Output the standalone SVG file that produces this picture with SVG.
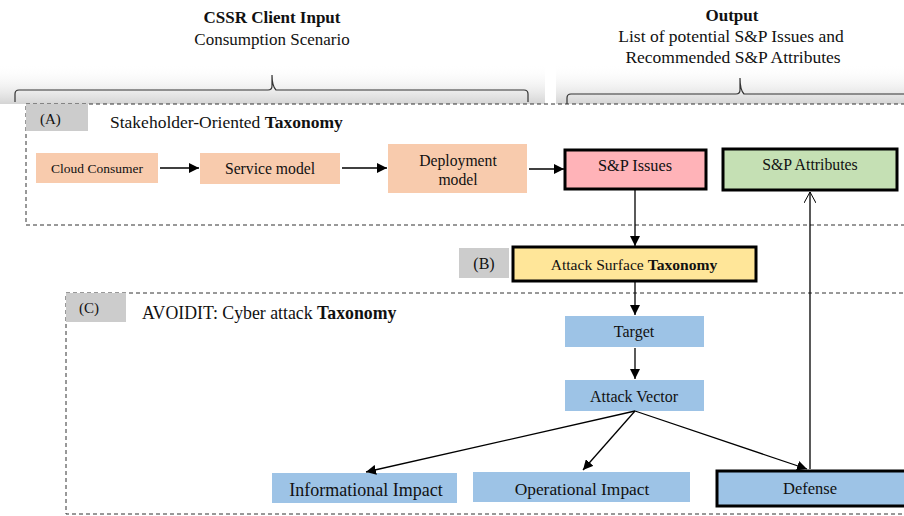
<svg xmlns="http://www.w3.org/2000/svg" width="904" height="516" viewBox="0 0 904 516">
<defs>
<linearGradient id="shade" x1="0" y1="0" x2="0" y2="1">
<stop offset="0" stop-color="#ffffff" stop-opacity="0"/>
<stop offset="1" stop-color="#cfcfcf" stop-opacity="0.9"/>
</linearGradient>
<marker id="arr" viewBox="0 0 10 10" refX="10" refY="5" markerWidth="10" markerHeight="10" markerUnits="userSpaceOnUse" orient="auto">
<path d="M0,0 L10,5 L0,10 z" fill="#000"/>
</marker>
<marker id="open" viewBox="0 0 12 12" refX="11" refY="6" markerWidth="12" markerHeight="12" markerUnits="userSpaceOnUse" orient="auto">
<path d="M0,0 L11,6 L0,12" fill="none" stroke="#000" stroke-width="1"/>
</marker>
</defs>
<style>
text{font-family:"Liberation Serif","Times New Roman",serif;fill:#111}
.b{font-weight:bold}
.dash{fill:none;stroke:#333;stroke-width:1;stroke-dasharray:4,3}
.lbl{fill:#cccccc}
.peach{fill:#f8cbad}
.blue{fill:#9dc3e6}
.thick{stroke:#000;stroke-width:3}
.ln{stroke:#000;stroke-width:1.3;fill:none}
.brace{fill:none;stroke:#333;stroke-width:1.2}
</style>
<rect width="904" height="516" fill="#fff"/>
<!-- header -->
<g id="header">
<rect x="0" y="64" width="545" height="40" fill="url(#shade)"/>
<rect x="556" y="64" width="348" height="40" fill="url(#shade)"/>
<text x="272" y="23" text-anchor="middle" font-size="17" class="b">CSSR Client Input</text>
<text x="272" y="45" text-anchor="middle" font-size="17">Consumption Scenario</text>
<text x="732" y="21" text-anchor="middle" font-size="17" class="b">Output</text>
<text x="731" y="42" text-anchor="middle" font-size="17.5">List of potential  S&amp;P Issues and</text>
<text x="733" y="63" text-anchor="middle" font-size="17.5">Recommended S&amp;P Attributes</text>
<path class="brace" d="M15,102 V94 Q15,90 19,90 H268 Q272,90 272,86 V75 Q272,86 276,90 H524 Q528,90 528,94 V102"/>
<path class="brace" d="M567,104 V98 Q567,94 571,94 H736 Q740,94 740,90 V78 Q740,90 744,94 H904"/>
</g>
<!-- containers -->
<g id="groupA">
<rect class="dash" x="26" y="104" width="890" height="121"/>
<rect class="lbl" x="26" y="104" width="62" height="27"/>
<text x="40" y="124" font-size="15">(A)</text>
<text x="110" y="128" font-size="17.5">Stakeholder-Oriented  <tspan class="b">Taxonomy</tspan></text>
</g>
<g id="groupC">
<rect class="dash" x="66" y="293" width="850" height="221"/>
<rect class="lbl" x="66" y="293" width="60" height="29"/>
<text x="79" y="313" font-size="15">(C)</text>
<text x="142" y="319" font-size="17.8">AVOIDIT: Cyber attack <tspan class="b">Taxonomy</tspan></text>
</g>
<!-- nodes -->
<g id="cloud-consumer">
<rect class="peach" x="36" y="153" width="122" height="30"/>
<text x="97" y="173" text-anchor="middle" font-size="13.5">Cloud Consumer</text>
</g>
<g id="service-model">
<rect class="peach" x="200" y="153" width="140" height="31"/>
<text x="270" y="174" text-anchor="middle" font-size="15.7">Service model</text>
</g>
<g id="deployment-model">
<rect class="peach" x="388" y="144" width="139" height="49"/>
<text x="458" y="166" text-anchor="middle" font-size="15.7">Deployment</text>
<text x="458" y="185" text-anchor="middle" font-size="15.7">model</text>
</g>
<g id="sp-issues">
<rect class="thick" fill="#ffb3b8" x="565" y="150" width="141" height="39"/>
<text x="635" y="171" text-anchor="middle" font-size="16.3">S&amp;P Issues</text>
</g>
<g id="sp-attributes">
<rect class="thick" fill="#c5e0b4" x="723" y="149" width="174" height="41"/>
<text x="810" y="170" text-anchor="middle" font-size="15.8">S&amp;P Attributes</text>
</g>
<g id="label-b">
<rect class="lbl" x="459" y="248" width="50" height="30"/>
<text x="484" y="269" text-anchor="middle" font-size="16">(B)</text>
</g>
<g id="attack-surface">
<rect class="thick" fill="#ffe699" x="513" y="247" width="243" height="34"/>
<text x="634" y="270" text-anchor="middle" font-size="15.6">Attack Surface <tspan class="b">Taxonomy</tspan></text>
</g>
<g id="target">
<rect class="blue" x="565" y="316" width="139" height="31"/>
<text x="634" y="337" text-anchor="middle" font-size="16">Target</text>
</g>
<g id="attack-vector">
<rect class="blue" x="565" y="380" width="139" height="31"/>
<text x="634" y="402" text-anchor="middle" font-size="16">Attack Vector</text>
</g>
<g id="informational-impact">
<rect class="blue" x="272" y="473" width="185" height="30"/>
<text x="366" y="496" text-anchor="middle" font-size="18">Informational  Impact</text>
</g>
<g id="operational-impact">
<rect class="blue" x="473" y="472" width="217" height="30"/>
<text x="582" y="495" text-anchor="middle" font-size="17.4">Operational  Impact</text>
</g>
<g id="defense">
<rect class="thick blue" x="717" y="471" width="190" height="35"/>
<text x="810" y="494" text-anchor="middle" font-size="16.5">Defense</text>
</g>
<!-- connectors -->
<g id="connectors">
<line class="ln" x1="160" y1="168" x2="199" y2="168" marker-end="url(#arr)"/>
<line class="ln" x1="342" y1="168" x2="387" y2="168" marker-end="url(#arr)"/>
<line class="ln" x1="529" y1="169" x2="564" y2="169" marker-end="url(#arr)"/>
<line class="ln" x1="635" y1="190" x2="635" y2="246" marker-end="url(#arr)"/>
<line class="ln" x1="635" y1="282" x2="635" y2="315" marker-end="url(#arr)"/>
<line class="ln" x1="635" y1="348" x2="635" y2="379" marker-end="url(#arr)"/>
<line class="ln" x1="635" y1="411" x2="366" y2="472" marker-end="url(#arr)"/>
<line class="ln" x1="635" y1="411" x2="583" y2="470" marker-end="url(#arr)"/>
<line class="ln" x1="635" y1="411" x2="807" y2="469" marker-end="url(#arr)"/>
<line class="ln" x1="810" y1="469" x2="810" y2="192" marker-end="url(#open)"/>
</g>
</svg>
